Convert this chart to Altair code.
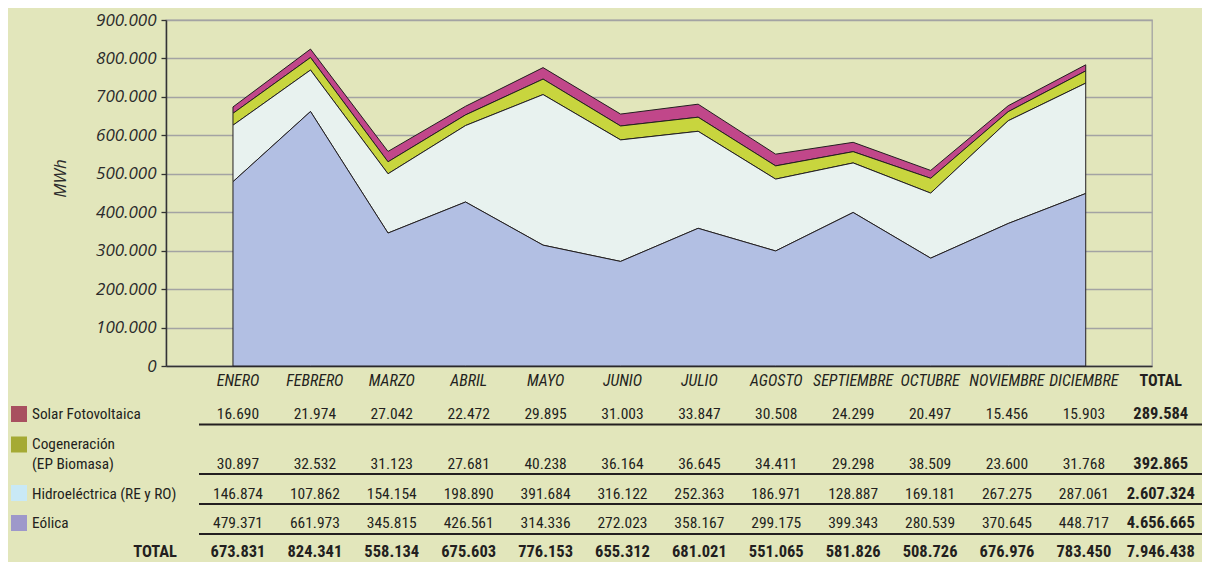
import altair as alt
import pandas as pd

# ---------------- data ----------------
months = ["ENERO", "FEBRERO", "MARZO", "ABRIL", "MAYO", "JUNIO", "JULIO",
          "AGOSTO", "SEPTIEMBRE", "OCTUBRE", "NOVIEMBRE", "DICIEMBRE"]
total_label = "TOTAL"

solar = [16690, 21974, 27042, 22472, 29895, 31003, 33847, 30508, 24299, 20497, 15456, 15903]
cogen = [30897, 32532, 31123, 27681, 40238, 36164, 36645, 34411, 29298, 38509, 23600, 31768]
hidro = [146874, 107862, 154154, 198890, 391684, 316122, 252363, 186971, 128887, 169181, 267275, 287061]
eolica = [479371, 661973, 345815, 426561, 314336, 272023, 358167, 299175, 399343, 280539, 370645, 448717]

month_totals = [673831, 824341, 558134, 675603, 776153, 655312, 681021, 551065,
                581826, 508726, 676976, 783450]
series_totals = [289584, 392865, 2607324, 4656665]
grand_total = 7946438

series_names = ["Solar Fotovoltaica", "Cogeneración\n(EP Biomasa)",
                "Hidroeléctrica (RE y RO)", "Eólica"]
area_colors = ["#c1478a", "#c8d53e", "#e8f2ef", "#b2bfe3"]
legend_colors = ["#a8505f", "#a5aa34", "#c9e9f6", "#9e98ca"]

y_ticks = [0, 100000, 200000, 300000, 400000, 500000, 600000, 700000, 800000, 900000]

# ---------------- styles ----------------
BG = "#e2e6bb"
INK = "#231f20"
FONT_AX = "Open Sans"
FONT_T = "Roboto Condensed, DejaVu Sans Condensed, sans-serif"


def es(n):
    return f"{n:,}".replace(",", ".")


all_series = [solar, cogen, hidro, eolica]

# long table for the stacked area
rows = []
for i, m in enumerate(months):
    for k, (name, vals) in enumerate(zip(series_names, all_series)):
        rows.append({"idx": i, "mes": m, "serie": name, "value": vals[i], "order": 3 - k})
area_df = pd.DataFrame(rows)

area = alt.Chart(area_df).mark_area(
    stroke=INK, strokeWidth=1, opacity=1, fillOpacity=1, interpolate="linear"
).encode(
    x=alt.X("idx:Q", scale=alt.Scale(domain=[-0.864, 11.855], nice=False, zero=False),
            axis=alt.Axis(labels=False, ticks=False, grid=False, title=None,
                          domainColor="#333333", domainWidth=1.5)),
    y=alt.Y("value:Q", stack="zero",
            scale=alt.Scale(domain=[0, 900000], nice=False),
            axis=alt.Axis(values=y_ticks, grid=True, gridColor="#a3a3a3", gridWidth=1.3,
                          domainColor="#333333", domainWidth=1.5,
                          tickColor="#333333", tickSize=5, tickWidth=1.3,
                          labelPadding=5, labelFont=FONT_AX, labelFontSize=17,
                          labelFontStyle="italic", labelColor="#2b2b2b",
                          labelExpr="datum.value == 0 ? '0' : format(datum.value / 1000, '.3f')",
                          title="MWh", titleFont=FONT_AX, titleFontSize=17,
                          titleFontStyle="italic", titleFontWeight="normal",
                          titleColor="#2b2b2b", titleX=-106, titleY=158,
                          titleAngle=270, titleAlign="center", titleBaseline="middle")),
    color=alt.Color("serie:N", scale=alt.Scale(domain=series_names, range=area_colors), legend=None),
    order=alt.Order("order:Q"),
)

# ---------------- table ----------------
xt_scale = alt.Scale(domain=[-0.936, 11.886], nice=False, zero=False)


def xt():
    return alt.X("col:Q", scale=xt_scale, axis=None)


header_df = pd.DataFrame({"col": list(range(13)), "label": months + [total_label],
                          "bold": [False] * 12 + [True]})

cells = []
for k, vals in enumerate(all_series):
    for i, v in enumerate(vals):
        cells.append({"row": k, "col": i, "label": es(v), "bold": False})
    cells.append({"row": k, "col": 12, "label": es(series_totals[k]), "bold": True})
for i, v in enumerate(month_totals):
    cells.append({"row": 4, "col": i, "label": es(v), "bold": True})
cells.append({"row": 4, "col": 12, "label": es(grand_total), "bold": True})
cells_df = pd.DataFrame(cells)

row_y = [394, 444, 474, 503, 532]      # text centre of each table row
label_y = [394, 424, 474, 503]         # first-line centre of the row labels
square_y = [394, 424.5, 473, 503]
rule_y = [404.5, 454, 484, 514]

layers = [area]

# month header
layers.append(
    alt.Chart(header_df).transform_filter("!datum.bold").mark_text(
        font=FONT_T, fontSize=16, fontStyle="italic", color=INK, baseline="middle", align="center"
    ).encode(x=xt(), y=alt.value(361), text="label:N")
)
layers.append(
    alt.Chart(header_df).transform_filter("datum.bold").mark_text(
        font=FONT_T, fontSize=16, fontWeight="bold", color=INK, baseline="middle", align="center"
    ).encode(x=xt(), y=alt.value(361), text="label:N")
)

for r in range(5):
    for b in (False, True):
        flt = f"datum.row == {r} && {'datum.bold' if b else '!datum.bold'}"
        layers.append(
            alt.Chart(cells_df).transform_filter(flt).mark_text(
                font=FONT_T, fontSize=16.5 if b else 15.5, fontWeight="bold" if b else "normal",
                color=INK, baseline="middle", align="center"
            ).encode(x=xt(), y=alt.value(row_y[r]), text="label:N")
        )

for k, name in enumerate(series_names):
    layers.append(
        alt.Chart(pd.DataFrame({"s": [name]})).mark_square(
            size=256, filled=True, color=legend_colors[k], opacity=1
        ).encode(x=alt.value(-147), y=alt.value(square_y[k]))
    )
    layers.append(
        alt.Chart(pd.DataFrame({"s": [name]})).mark_text(
            font=FONT_T, fontSize=15.3, color=INK, align="left", baseline="middle",
            lineBreak="\n", lineHeight=20
        ).encode(x=alt.value(-134), y=alt.value(label_y[k]), text="s:N")
    )

layers.append(
    alt.Chart(pd.DataFrame({"s": [total_label]})).mark_text(
        font=FONT_T, fontSize=16.5, fontWeight="bold", color=INK, align="right", baseline="middle"
    ).encode(x=alt.value(11), y=alt.value(row_y[4]), text="s:N")
)

for yy in rule_y:
    layers.append(
        alt.Chart(pd.DataFrame({"r": [0]})).mark_rule(color=INK, strokeWidth=2.2).encode(
            x=alt.value(33), x2=alt.value(1037), y=alt.value(yy)
        )
    )

chart = alt.layer(*layers).resolve_scale(x="independent").properties(
    width=986, height=346,
    padding={"left": 158, "top": 12, "right": 50, "bottom": 196},
    autosize=alt.AutoSizeParams(type="none"),
    background=BG,
).configure_view(stroke="#a3a3a3", strokeWidth=1.3)

chart.save("out.html", embed_options={"renderer": "svg", "actions": False})
